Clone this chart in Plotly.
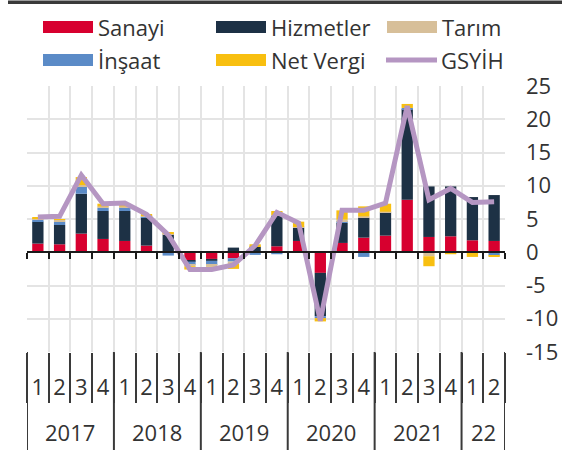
import plotly.graph_objects as go

# ---------------- data ----------------
quarters = ["2017-1", "2017-2", "2017-3", "2017-4",
            "2018-1", "2018-2", "2018-3", "2018-4",
            "2019-1", "2019-2", "2019-3", "2019-4",
            "2020-1", "2020-2", "2020-3", "2020-4",
            "2021-1", "2021-2", "2021-3", "2021-4",
            "2022-1", "2022-2"]
quarter_labels = ["1", "2", "3", "4", "1", "2", "3", "4", "1", "2", "3", "4",
                  "1", "2", "3", "4", "1", "2", "3", "4", "1", "2"]
year_labels = ["2017", "2018", "2019", "2020", "2021", "22"]
year_counts = [4, 4, 4, 4, 4, 2]

sanayi    = [1.3, 1.2, 2.8, 2.0, 1.7, 1.0, 0.1, -1.2, -1.0, -0.9, 0.0, 0.9,
             1.7, -3.1, 1.4, 2.2, 2.5, 7.9, 2.3, 2.4, 1.8, 1.7]
hizmetler = [3.3, 2.9, 6.0, 4.2, 4.5, 4.3, 2.6, -0.2, -0.3, 0.7, 0.8, 4.6,
             2.0, -6.5, 3.0, 3.0, 3.5, 13.6, 7.6, 7.5, 6.5, 6.9]
insaat    = [0.3, 0.5, 1.1, 0.5, 0.5, 0.1, -0.5, -0.5, -0.6, -0.5, -0.4, -0.3,
             0.0, -0.3, 0.2, -0.7, -0.1, 0.2, 0.0, 0.0, -0.1, -0.5]
tarim     = [0.2, 0.3, 0.2, 0.2, 0.2, 0.1, 0.1, -0.2, -0.3, -0.3, 0.1, 0.1,
             0.1, 0.1, 0.3, 0.2, 0.1, 0.0, -0.6, 0.0, 0.0, 0.0]
net_vergi = [0.1, 0.1, 1.2, 0.4, 0.4, 0.2, 0.2, -0.5, -0.4, -0.8, 0.3, 0.6,
             0.8, -0.5, 1.4, 1.5, 1.2, 0.6, -1.5, -0.3, -0.6, -0.2]
gsyih     = [5.3, 5.4, 11.6, 7.3, 7.4, 5.7, 2.6, -2.6, -2.6, -1.9, 1.0, 6.0,
             4.4, -10.3, 6.3, 6.3, 7.4, 22.0, 7.9, 9.6, 7.5, 7.6]

y_ticks = [-15, -10, -5, 0, 5, 10, 15, 20, 25]
y_ticktext = ["-15", "-10", "-5", "0", "5", "10", "15", "20", "25"]

series_names = ["Sanayi", "Hizmetler", "İnşaat", "Tarım", "Net Vergi"]
series_values = [sanayi, hizmetler, insaat, tarim, net_vergi]
series_colors = ["#d7002f", "#1d3145", "#5b8bc7", "#d7bf99", "#f8bf10"]
line_color = "#b596c2"

FONT = "Open Sans"
TXT = "#333333"
FS = 22

W, H = 563, 452
L, R, T, B = 27, 58, 86, 100
PW, PH = W - L - R, H - T - B


def px(x):
    return (x - L) / PW


def py(y):
    return (H - B - y) / PH


fig = go.Figure()
for name, vals, col in zip(series_names, series_values, series_colors):
    fig.add_trace(go.Bar(x=quarters, y=vals, name=name, marker_color=col,
                         marker_line_width=0, showlegend=False))

fig.add_trace(go.Scatter(x=quarters, y=gsyih, name="GSYİH", mode="lines",
                         line=dict(color=line_color, width=5),
                         xaxis="x2", showlegend=False))

shapes = []
annotations = []

# top dark rule
shapes.append(dict(type="rect", xref="paper", yref="paper", layer="above",
                   x0=px(8), x1=px(562), y0=py(4), y1=py(0.5),
                   fillcolor="#3a3a3a", line=dict(width=0)))

# year dividers and year labels
start = 0
bounds = [-0.5]
for lab, n in zip(year_labels, year_counts):
    center = start + (n - 1) / 2
    annotations.append(dict(x=center, y=py(432), xref="x", yref="paper",
                            text=lab, showarrow=False,
                            font=dict(family=FONT, size=FS, color=TXT),
                            xanchor="center", yanchor="middle"))
    start += n
    bounds.append(start - 0.5)
for b in bounds:
    shapes.append(dict(type="line", xref="x", yref="paper",
                       x0=b, x1=b, y0=py(352), y1=py(450),
                       line=dict(color="#3a3a3a", width=2)))

# manual legend
legend_items = [
    ("Sanayi", series_colors[0], 43, 27, "box"),
    ("Hizmetler", series_colors[1], 216, 27, "box"),
    ("Tarım", series_colors[3], 387, 27, "box"),
    ("İnşaat", series_colors[2], 43, 60, "box"),
    ("Net Vergi", series_colors[4], 216, 60, "box"),
    ("GSYİH", line_color, 386, 60, "line"),
]
for text, col, x0, yc, kind in legend_items:
    if kind == "box":
        shapes.append(dict(type="rect", xref="paper", yref="paper",
                           x0=px(x0), x1=px(x0 + 50), y0=py(yc - 6), y1=py(yc + 6),
                           fillcolor=col, line=dict(width=0)))
    else:
        shapes.append(dict(type="line", xref="paper", yref="paper",
                           x0=px(x0), x1=px(x0 + 51), y0=py(yc), y1=py(yc),
                           line=dict(color=col, width=5)))
    annotations.append(dict(x=px(x0 + 53), y=py(yc), xref="paper", yref="paper",
                            text=text, showarrow=False, xanchor="left",
                            yanchor="middle",
                            font=dict(family=FONT, size=FS, color=TXT)))

fig.update_layout(
    width=W, height=H,
    margin=dict(l=L, r=R, t=T, b=B, pad=0, autoexpand=False),
    paper_bgcolor="white", plot_bgcolor="white",
    barmode="relative", bargap=0.48,
    font=dict(family=FONT, size=FS, color=TXT),
    showlegend=False,
    xaxis=dict(type="category", categoryorder="array", categoryarray=quarters,
               range=[-0.5, len(quarters) - 0.5], automargin=False,
               tickmode="array", tickvals=quarters, ticktext=quarter_labels,
               tickson="boundaries", ticks="outside", ticklen=50,
               tickwidth=2, tickcolor="#3a3a3a", tickangle=0,
               showgrid=True, gridcolor="#e4e4e4", gridwidth=2,
               showline=False, zeroline=False,
               ticklabelstandoff=20,
               tickfont=dict(family=FONT, size=FS, color=TXT)),
    xaxis2=dict(type="category", categoryorder="array", categoryarray=quarters,
                overlaying="x", matches="x", anchor="free", position=0.375,
                side="bottom", tickson="boundaries", ticks="outside", ticklen=6,
                tickwidth=1.5, tickcolor="#1a1a1a", automargin=False,
                showline=True, linecolor="#1a1a1a", linewidth=2,
                layer="above traces",
                showticklabels=False, showgrid=False, zeroline=False),
    yaxis=dict(side="right", range=[-15, 25], tickmode="array",
               tickvals=y_ticks, ticktext=y_ticktext, automargin=False,
               showgrid=True, gridcolor="#e4e4e4", gridwidth=2,
               zeroline=False, showline=False, ticks="",
               ticklabelstandoff=20,
               tickfont=dict(family=FONT, size=FS, color=TXT)),
    shapes=shapes,
    annotations=annotations,
)

fig.write_html("out.html", config={"displayModeBar": False},
               post_script="document.body.style.margin='0';")
